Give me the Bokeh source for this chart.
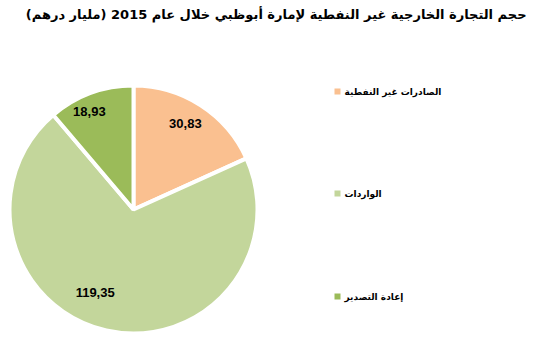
import math
from bokeh.plotting import figure
from bokeh.models import Range1d, Label
from bokeh.core.properties import value
from bokeh.embed import file_html
from bokeh.resources import INLINE

title_text = "حجم التجارة الخارجية غير النفطية لإمارة أبوظبي خلال عام 2015 (مليار درهم)"
categories = ["الصادرات غير النفطية", "الواردات", "إعادة التصدير"]
values = [30.83, 119.35, 18.93]
colors = ["#FAC090", "#C3D69B", "#9BBB59"]

W, H = 535, 347
p = figure(width=W, height=H, output_backend="svg", toolbar_location=None,
           x_range=Range1d(0, W), y_range=Range1d(0, H), min_border=0)
p.axis.visible = False
p.grid.visible = False
p.outline_line_color = None
p.background_fill_color = "white"
p.border_fill_color = "white"

cx, cy, R = 133, H - 209, 124
total = sum(values)
starts, ends, mids = [], [], []
cum = 0.0
for v in values:
    a0 = math.pi / 2 - cum / total * 2 * math.pi
    cum += v
    a1 = math.pi / 2 - cum / total * 2 * math.pi
    starts.append(a0)
    ends.append(a1)
    mids.append((a0 + a1) / 2)

p.wedge(x=[cx] * 3, y=[cy] * 3, radius=R, start_angle=starts, end_angle=ends,
        direction="clock", fill_color=colors, line_color="white", line_width=4)

label_r = [0.81, 0.74, 0.87]
label_shift = [0.03, -0.21, 0.07]
lx = [cx + R * f * math.cos(m + s) for f, m, s in zip(label_r, mids, label_shift)]
ly = [cy + R * f * math.sin(m + s) for f, m, s in zip(label_r, mids, label_shift)]
texts = [f"{v:.2f}".replace(".", ",") for v in values]
p.text(x=lx, y=ly, text=texts, text_align="center", text_baseline="middle",
       text_font=value("Liberation Sans"), text_font_style="bold",
       text_font_size="13px", text_color="black")

# legend
leg_x = 337
leg_y = [H - 91, H - 193, H - 296]
p.scatter(x=[leg_x] * 3, y=leg_y, marker="square", size=6, fill_color=colors, line_color=None)
p.text(x=[leg_x + 7] * 3, y=leg_y, text=categories, text_align="left", text_baseline="middle",
       text_font=value("DejaVu Sans"), text_font_style="bold", text_font_size="9px",
       text_color="black")

p.add_layout(Label(x=526, y=H - 14, text=title_text, text_align="right", text_baseline="middle",
                   text_font="DejaVu Sans", text_font_style="bold", text_font_size="13px",
                   text_color="black"))

open("out.html", "w").write(file_html(p, INLINE))
